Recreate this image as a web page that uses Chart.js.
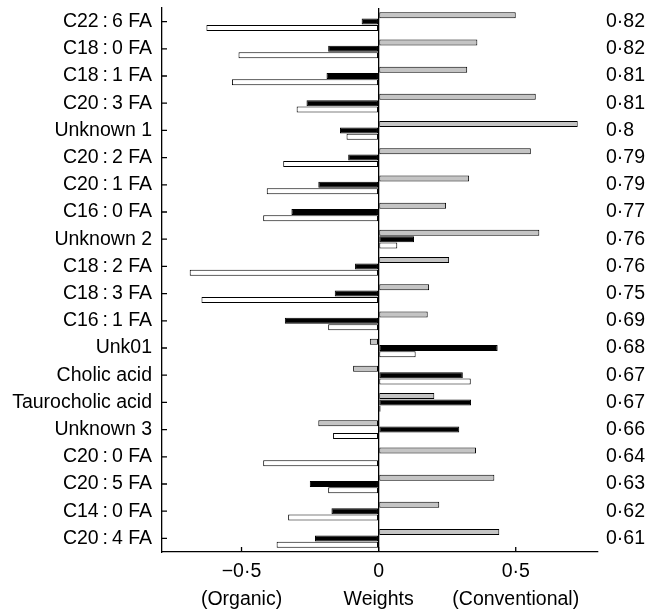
<!DOCTYPE html>
<html>
<head>
<meta charset="utf-8">
<script src="https://cdn.jsdelivr.net/npm/chart.js@4.4.0/dist/chart.umd.min.js"></script>
<style>
  html, body { margin: 0; padding: 0; background: #fff; }
  #wrap { width: 645px; height: 611px; }
</style>
</head>
<body>
<div id="wrap"><canvas id="weightsChart"></canvas></div>
<script>
const compounds = [
  'C22\u2009:\u20096 FA', 'C18\u2009:\u20090 FA', 'C18\u2009:\u20091 FA', 'C20\u2009:\u20093 FA', 'Unknown 1',
  'C20\u2009:\u20092 FA', 'C20\u2009:\u20091 FA', 'C16\u2009:\u20090 FA', 'Unknown 2', 'C18\u2009:\u20092 FA',
  'C18\u2009:\u20093 FA', 'C16\u2009:\u20091 FA', 'Unk01', 'Cholic acid', 'Taurocholic acid',
  'Unknown 3', 'C20\u2009:\u20090 FA', 'C20\u2009:\u20095 FA', 'C14\u2009:\u20090 FA', 'C20\u2009:\u20094 FA'
];
const accuracies = [
  '0·82', '0·82', '0·81', '0·81', '0·8', '0·79', '0·79', '0·77', '0·76', '0·76',
  '0·75', '0·69', '0·68', '0·67', '0·67', '0·66', '0·64', '0·63', '0·62', '0·61'
];
const greyWeights = [
  0.50, 0.36, 0.323, 0.573, 0.726, 0.555, 0.33, 0.246, 0.586, 0.257,
  0.184, 0.179, -0.032, -0.093, 0.203, -0.22, 0.355, 0.422, 0.221, 0.44
];
const blackWeights = [
  -0.062, -0.184, -0.19, -0.263, -0.141, -0.111, -0.22, -0.318, 0.129, -0.086,
  -0.16, -0.342, 0.434, 0.307, 0.337, 0.294, 0, -0.251, -0.172, -0.232
];
const whiteWeights = [
  -0.628, -0.511, -0.535, -0.299, -0.117, -0.348, -0.408, -0.421, 0.068, -0.689,
  -0.646, -0.184, 0.135, 0.336, 0.007, -0.166, -0.421, -0.184, -0.33, -0.372
];
const xTickValues = [-0.5, 0, 0.5];
const xTickLabels = [['\u22120·5', '(Organic)'], ['0', 'Weights'], ['0·5', '(Conventional)']];

const labelFont = { family: '"Liberation Sans", Arial, sans-serif', size: 19.5 };

function makeDataset(values, fill) {
  return {
    data: values,
    backgroundColor: fill,
    borderColor: '#000',
    borderWidth: 1,
    borderSkipped: false,
    categoryPercentage: 0.7,
    barPercentage: 0.95
  };
}

// tick marks point into the plot, chart.js draws them outward
const inwardTicks = {
  id: 'inwardTicks',
  afterDatasetsDraw(chart) {
    const { ctx, chartArea, scales: { x, y } } = chart;
    ctx.save();
    ctx.strokeStyle = '#000';
    ctx.lineWidth = 1.3;
    ctx.beginPath();
    y.ticks.forEach((t, i) => {
      const py = y.getPixelForTick(i);
      ctx.moveTo(chartArea.left, py);
      ctx.lineTo(chartArea.left + 5, py);
    });
    x.ticks.forEach((t, i) => {
      const px = x.getPixelForTick(i);
      ctx.moveTo(px, chartArea.bottom);
      ctx.lineTo(px, chartArea.bottom - 5);
    });
    ctx.stroke();
    ctx.restore();
  }
};

function noPad(s) {
  s.paddingTop = 0;
  s.paddingBottom = 0;
}

const ctx = document.getElementById('weightsChart').getContext('2d');
const weightsChart = new Chart(ctx, {
  type: 'bar',
  data: {
    labels: compounds,
    datasets: [
      makeDataset(greyWeights, '#c4c4c4'),
      makeDataset(blackWeights, '#000'),
      makeDataset(whiteWeights, '#fff')
    ]
  },
  options: {
    indexAxis: 'y',
    responsive: true,
    maintainAspectRatio: false,
    animation: false,
    layout: { padding: { top: 8 } },
    plugins: { legend: { display: false }, tooltip: { enabled: false } },
    scales: {
      x: {
        type: 'linear',
        position: 'bottom',
        min: -0.79,
        max: 0.8,
        afterBuildTicks: s => { s.ticks = xTickValues.map(v => ({ value: v })); },
        afterFit: s => { s.height = 59; s.paddingLeft = 0; s.paddingRight = 0; },
        ticks: {
          callback: (value, index) => xTickLabels[index],
          color: '#000',
          font: { family: labelFont.family, size: 19.5, lineHeight: 1.45 },
          padding: 5,
          maxRotation: 0
        },
        grid: {
          drawOnChartArea: true,
          drawTicks: false,
          color: c => (c.tick && c.tick.value === 0) ? '#000' : 'rgba(0,0,0,0)',
          lineWidth: 1.3
        },
        border: { display: true, color: '#000', width: 1.3 }
      },
      y: {
        type: 'category',
        position: 'left',
        offset: true,
        afterFit: s => { s.width = 162; noPad(s); },
        ticks: { color: '#000', font: labelFont, padding: 10, autoSkip: false },
        grid: { offset: false, drawOnChartArea: false, drawTicks: false },
        border: { display: true, color: '#000', width: 1.3 }
      },
      y2: {
        type: 'category',
        position: 'right',
        labels: accuracies,
        offset: true,
        afterFit: s => { s.width = 47; noPad(s); },
        ticks: { color: '#000', font: labelFont, padding: 8, autoSkip: false },
        grid: { display: false, drawTicks: false, tickLength: 0 },
        border: { display: false }
      }
    }
  },
  plugins: [inwardTicks]
});
</script>
</body>
</html>
